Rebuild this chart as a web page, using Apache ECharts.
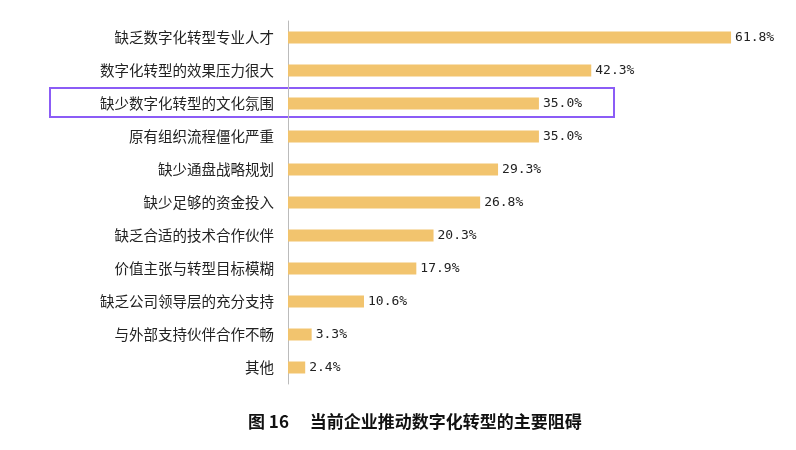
<!DOCTYPE html>
<html><head><meta charset="utf-8">
<script src="https://cdn.jsdelivr.net/npm/echarts@6/dist/echarts.min.js"></script>
<style>html,body{margin:0;padding:0;background:#fff}#c{width:796px;height:450px}</style>
</head><body><div id="c"></div>
<script>
var categories = ['缺乏数字化转型专业人才','数字化转型的效果压力很大','缺少数字化转型的文化氛围','原有组织流程僵化严重','缺少通盘战略规划','缺少足够的资金投入','缺乏合适的技术合作伙伴','价值主张与转型目标模糊','缺乏公司领导层的充分支持','与外部支持伙伴合作不畅','其他'];
var values = [61.8, 42.3, 35.0, 35.0, 29.3, 26.8, 20.3, 17.9, 10.6, 3.3, 2.4];
var caption = '图 16　 当前企业推动数字化转型的主要阻碍';

var chart = echarts.init(document.getElementById('c'));
chart.setOption({
  animation: false,
  grid: {left: 288, right: 42, top: 21, bottom: 66},
  xAxis: {type: 'value', min: 0, max: 65, show: false},
  yAxis: {
    type: 'category', inverse: true, data: categories,
    axisLine: {lineStyle: {color: '#bbbbbb'}}, axisTick: {show: false},
    axisLabel: {color: '#222', fontSize: 14.5, margin: 14, fontFamily: 'Noto Sans CJK SC'}
  },
  series: [{
    type: 'bar', data: values, barWidth: 12,
    itemStyle: {color: '#F2C46E'},
    label: {show: true, position: 'right', distance: 4, color: '#222', fontSize: 13,
      fontFamily: 'DejaVu Sans Mono', formatter: function (p) { return p.value.toFixed(1) + '%'; }}
  }],
  graphic: [
    {type: 'rect', shape: {x: 50, y: 88, width: 564, height: 29},
     style: {fill: 'none', stroke: '#8B5CF6', lineWidth: 2}},
    {type: 'text', left: 248, top: 413,
     style: {text: caption, fontSize: 17, fontWeight: 'bold', fill: '#111', fontFamily: 'Noto Sans CJK SC'}}
  ]
});
</script></body></html>
